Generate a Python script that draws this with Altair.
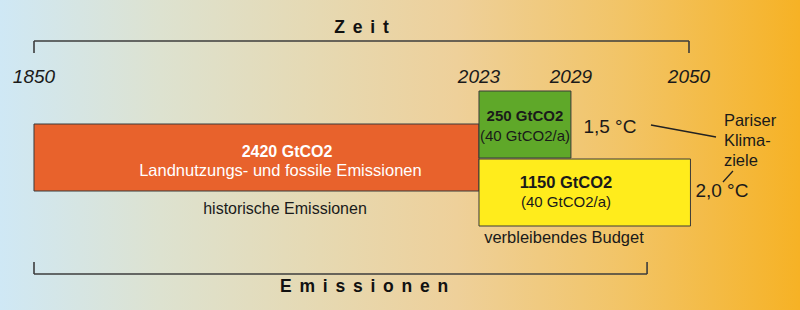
import altair as alt
import pandas as pd

# ---------------- data ----------------
# cumulative emissions (GtCO2) used as horizontal axis
hist_gt = 2420          # historical emissions 1850-2023
budget_15_gt = 250      # remaining budget 1.5 °C
budget_20_gt = 1150     # remaining budget 2.0 °C
green_drawn_gt = 500    # drawn width of the 1.5 °C box

years = ["1850", "2023", "2029", "2050"]
year_pos = [0, 2420, 2920, 3562]

box_names = ["hist", "b15", "b20"]
box_x0 = [0, 2420, 2420]
box_x1 = [2420, 2420 + green_drawn_gt, 2420 + budget_20_gt]
box_top = [124, 91, 159]
box_bot = [191, 158, 226]
box_colors = ["#E8622C", "#5FA829", "#FFEC1C"]

# text labels
txt = [
    "2420 GtCO2", "Landnutzungs- und fossile Emissionen", "historische Emissionen",
    "250 GtCO2", "(40 GtCO2/a)",
    "1150 GtCO2", "(40 GtCO2/a)", "verbleibendes Budget",
    "1,5 °C", "2,0 °C",
]
txt_x = [1376, 1340, 1365, 2670, 2670, 2893, 2893, 2882, 3132, 3741]
txt_y = [152, 171, 209, 116, 136, 183, 202, 238, 127, 191]
txt_bold = [True, False, False, True, False, True, False, False, False, False]
txt_color = ["white", "white", "#1a1a1a", "#1a1a1a", "#1a1a1a", "#1a1a1a", "#1a1a1a", "#1a1a1a", "#1a1a1a", "#1a1a1a"]
txt_size = [16, 16.5, 16, 15, 15, 16.5, 15, 16.5, 19, 19]

paris = ["Pariser", "Klima-", "ziele"]
paris_y = [121, 141, 161]
paris_x = 3752

# brackets (Zeit / Emissionen)
bracket_top = {"x0": 0, "x1": 3562, "y": 41, "tick": 53}
bracket_bot = {"x0": 0, "x1": 3334, "y": 274, "tick": 262}

# leader lines
lead_x0 = [3355, 3747]
lead_y0 = [125, 182]
lead_x1 = [3709, 3801]
lead_y1 = [137, 171]

# ---------------- scales ----------------
X_DOM = [-184.9, 4165.7]
xs = alt.Scale(domain=X_DOM, range=[0, 800], nice=False, zero=False)
ys = alt.Scale(domain=[0, 310], range=[0, 310], nice=False, zero=False)
X = lambda f: alt.X(f, type="quantitative", scale=xs, axis=None)
X2 = lambda f: alt.X2(f)
Y = lambda f: alt.Y(f, type="quantitative", scale=ys, axis=None)
Y2 = lambda f: alt.Y2(f)

FONT = "Liberation Sans"
DARK = "#1a1a1a"

# background gradient
bg = alt.Chart(pd.DataFrame({"a": [0]})).mark_rect(
    color=alt.LinearGradient(
        gradient="linear", x1=0, x2=1, y1=0, y2=0,
        stops=[
            alt.GradientStop(color="#cfe8f5", offset=0),
            alt.GradientStop(color="#dde2d0", offset=0.2),
            alt.GradientStop(color="#e6d9b2", offset=0.4),
            alt.GradientStop(color="#eed09a", offset=0.57),
            alt.GradientStop(color="#f2c466", offset=0.78),
            alt.GradientStop(color="#f6b225", offset=1),
        ],
    )
).encode(x=alt.value(0), x2=alt.value(800), y=alt.value(0), y2=alt.value(310))

boxes_df = pd.DataFrame({"name": box_names, "x0": box_x0, "x1": box_x1,
                         "top": box_top, "bot": box_bot, "col": box_colors})
boxes = alt.Chart(boxes_df).mark_rect(stroke="#3a3a3a", strokeWidth=1).encode(
    x=X("x0"), x2=X2("x1"), y=Y("top"), y2=Y2("bot"),
    fill=alt.Fill("col:N", scale=None),
)

# brackets as rules
br_rows = []
for b in (bracket_top, bracket_bot):
    br_rows.append({"x0": b["x0"], "x1": b["x1"], "y0": b["y"], "y1": b["y"]})
    br_rows.append({"x0": b["x0"], "x1": b["x0"], "y0": b["y"], "y1": b["tick"]})
    br_rows.append({"x0": b["x1"], "x1": b["x1"], "y0": b["y"], "y1": b["tick"]})
br_df = pd.DataFrame(br_rows)
brackets = alt.Chart(br_df).mark_rule(color="#3c3c3c", strokeWidth=1.6).encode(
    x=X("x0"), x2=X2("x1"), y=Y("y0"), y2=Y2("y1"))

lead_df = pd.DataFrame({"x0": lead_x0, "x1": lead_x1, "y0": lead_y0, "y1": lead_y1})
leaders = alt.Chart(lead_df).mark_rule(color="#222222", strokeWidth=1.3).encode(
    x=X("x0"), x2=X2("x1"), y=Y("y0"), y2=Y2("y1"))

years_df = pd.DataFrame({"t": years, "x": year_pos, "y": [77] * len(years)})
year_txt = alt.Chart(years_df).mark_text(
    font=FONT, fontSize=19, fontStyle="italic", color=DARK, baseline="middle"
).encode(x=X("x"), y=Y("y"), text="t:N")

sp = " \u2006"
title_df = pd.DataFrame({
    "t": [sp.join("Zeit"), sp.join("Emissionen")],
    "x": [(bracket_top["x0"] + bracket_top["x1"]) / 2, 1795],
    "y": [28, 287],
})
titles = alt.Chart(title_df).mark_text(
    font=FONT, fontSize=17.5, fontWeight="bold", color="#111111", baseline="middle"
).encode(x=X("x"), y=Y("y"), text="t:N")

txt_layers = []
for t, x, y, b, c, s in zip(txt, txt_x, txt_y, txt_bold, txt_color, txt_size):
    d = pd.DataFrame({"t": [t], "x": [x], "y": [y]})
    txt_layers.append(
        alt.Chart(d).mark_text(
            font=FONT, fontSize=s, fontWeight="bold" if b else "normal",
            color=c, baseline="middle"
        ).encode(x=X("x"), y=Y("y"), text="t:N")
    )

paris_df = pd.DataFrame({"t": paris, "x": [paris_x] * 3, "y": paris_y})
paris_txt = alt.Chart(paris_df).mark_text(
    font=FONT, fontSize=16.5, color=DARK, baseline="middle", align="left"
).encode(x=X("x"), y=Y("y"), text="t:N")

chart = alt.layer(bg, boxes, brackets, leaders, year_txt, titles, *txt_layers, paris_txt).properties(
    width=800, height=310, padding=0, autosize=alt.AutoSizeParams(type="none")
).configure_view(stroke=None)

chart.save("out.html", embed_options={"renderer": "svg", "actions": False})
